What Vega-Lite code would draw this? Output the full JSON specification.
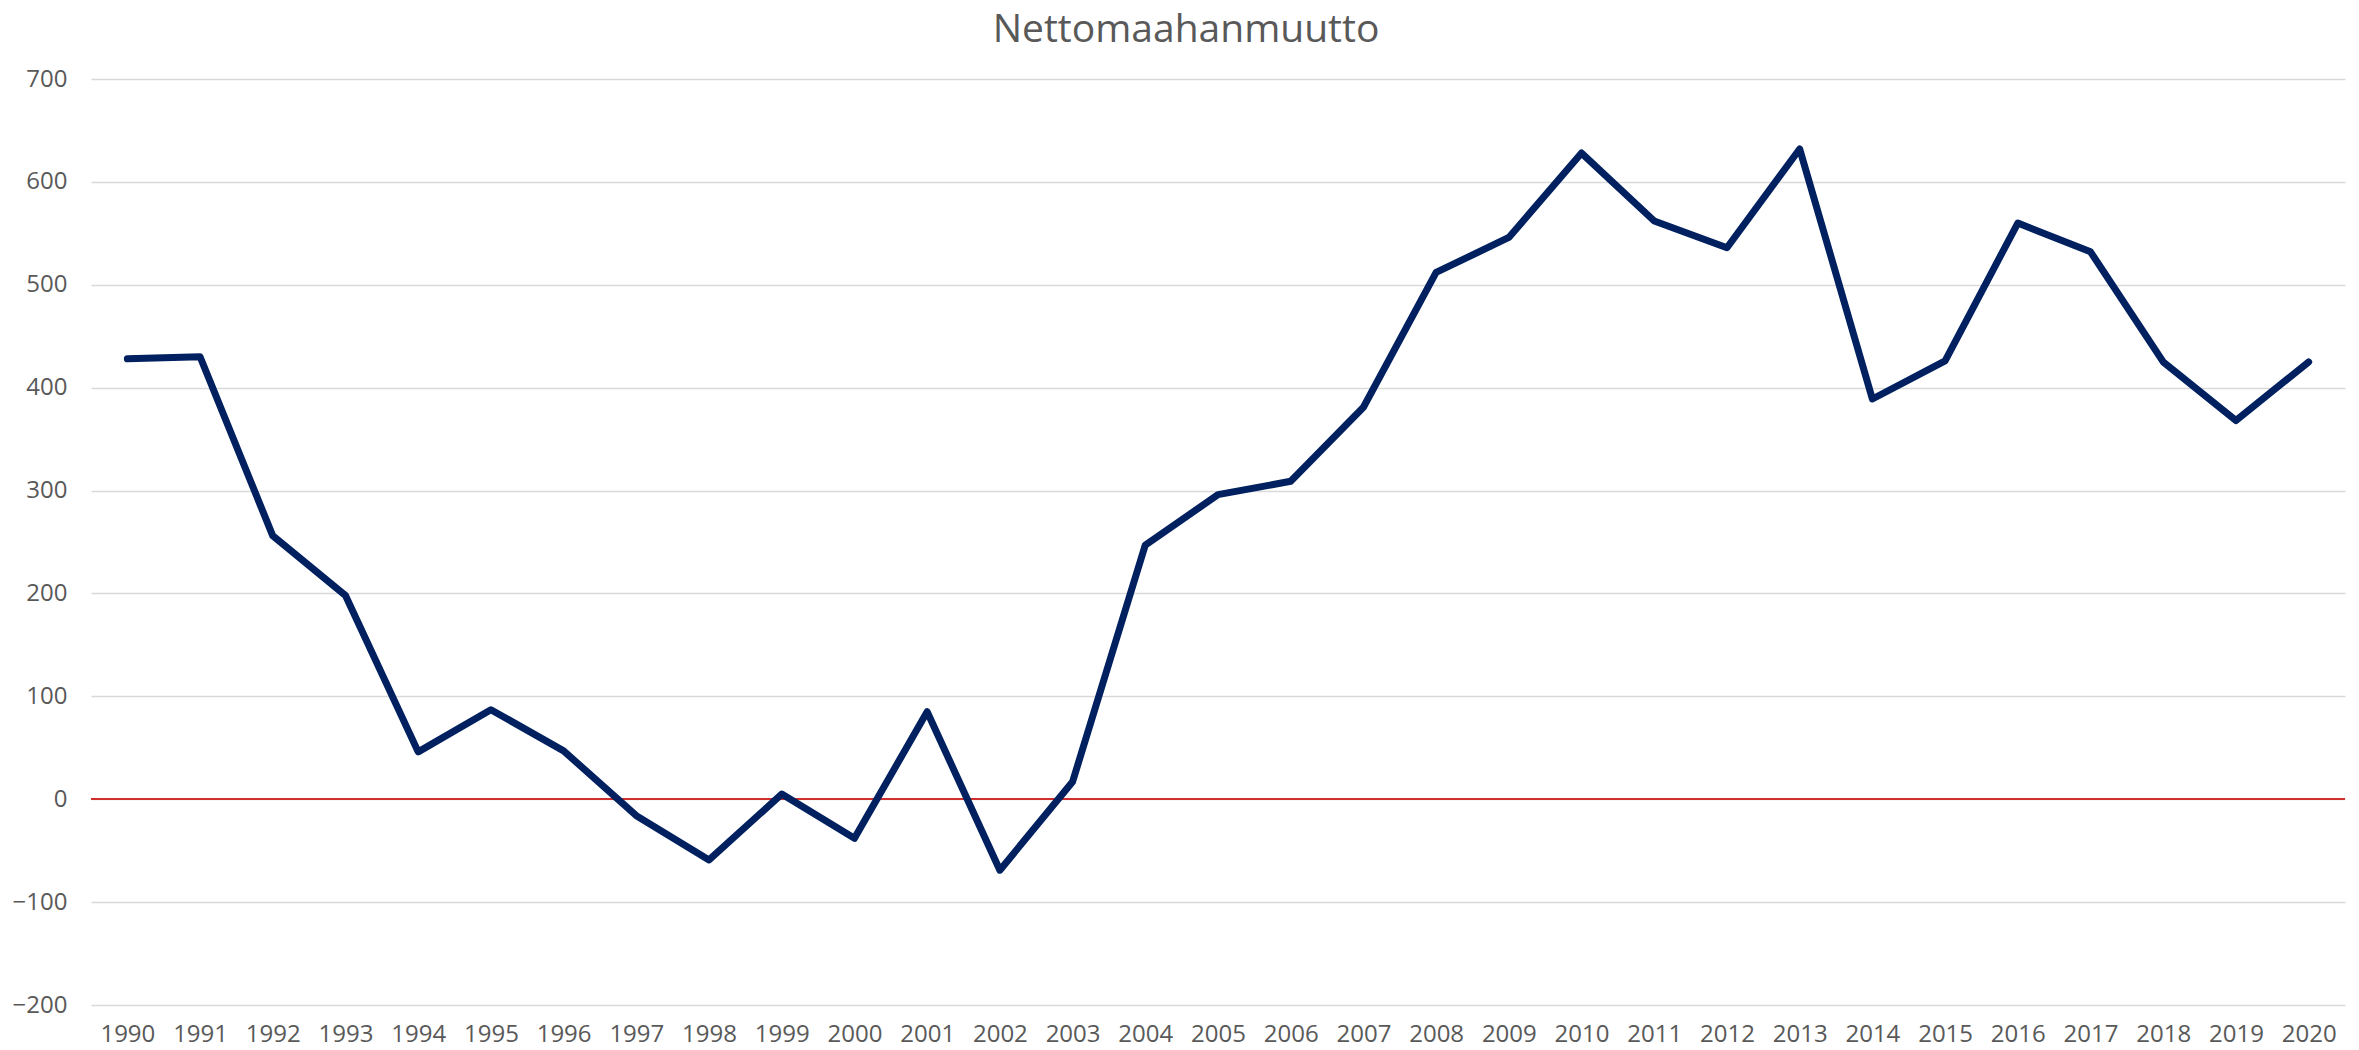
{
  "$schema": "https://vega.github.io/schema/vega-lite/v6.json",
  "width": 2254,
  "height": 926,
  "autosize": {"type": "none"},
  "padding": {"left": 91, "top": 79, "right": 14, "bottom": 45},
  "background": "white",
  "title": {
    "text": "Nettomaahanmuutto",
    "font": "Open Sans",
    "fontSize": 39,
    "fontWeight": "normal",
    "color": "#595959",
    "anchor": "middle",
    "offset": 17,
    "dx": -32
  },
  "config": {
    "view": {"stroke": null},
    "axis": {
      "labelFont": "Open Sans",
      "labelFontSize": 24,
      "labelColor": "#595959",
      "domain": false,
      "ticks": false,
      "title": null
    }
  },
  "data": {
    "values": [
      {"year": "1990", "value": 428},
      {"year": "1991", "value": 430},
      {"year": "1992", "value": 256},
      {"year": "1993", "value": 198},
      {"year": "1994", "value": 46},
      {"year": "1995", "value": 87},
      {"year": "1996", "value": 47},
      {"year": "1997", "value": -16},
      {"year": "1998", "value": -59},
      {"year": "1999", "value": 5},
      {"year": "2000", "value": -38},
      {"year": "2001", "value": 85},
      {"year": "2002", "value": -69},
      {"year": "2003", "value": 17},
      {"year": "2004", "value": 247},
      {"year": "2005", "value": 296},
      {"year": "2006", "value": 309},
      {"year": "2007", "value": 381},
      {"year": "2008", "value": 512},
      {"year": "2009", "value": 546},
      {"year": "2010", "value": 628},
      {"year": "2011", "value": 562},
      {"year": "2012", "value": 536},
      {"year": "2013", "value": 632},
      {"year": "2014", "value": 389},
      {"year": "2015", "value": 426},
      {"year": "2016", "value": 560},
      {"year": "2017", "value": 532},
      {"year": "2018", "value": 425},
      {"year": "2019", "value": 368},
      {"year": "2020", "value": 425}
    ]
  },
  "layer": [
    {
      "mark": {"type": "line", "color": "#002060", "strokeWidth": 7, "strokeJoin": "round", "strokeCap": "round", "opacity": 0},
      "encoding": {
        "x": {
          "field": "year",
          "type": "ordinal",
          "scale": {"type": "point", "padding": 0.5},
          "axis": {"labelAngle": 0, "labelPadding": 17, "grid": false}
        },
        "y": {
          "field": "value",
          "type": "quantitative",
          "scale": {"domain": [-200, 700], "nice": false, "zero": false},
          "axis": {
            "values": [-200, -100, 0, 100, 200, 300, 400, 500, 600, 700],
            "grid": true,
            "gridColor": "#D9D9D9",
            "gridWidth": 1.5,
            "labelPadding": 24
          }
        }
      }
    },
    {
      "mark": {"type": "rule", "color": "#D0312D", "strokeWidth": 1.5},
      "encoding": {"y": {"datum": 0, "type": "quantitative"}}
    },
    {
      "mark": {"type": "line", "color": "#002060", "strokeWidth": 7, "strokeJoin": "round", "strokeCap": "round"},
      "encoding": {
        "x": {"field": "year", "type": "ordinal"},
        "y": {"field": "value", "type": "quantitative"}
      }
    }
  ]
}
